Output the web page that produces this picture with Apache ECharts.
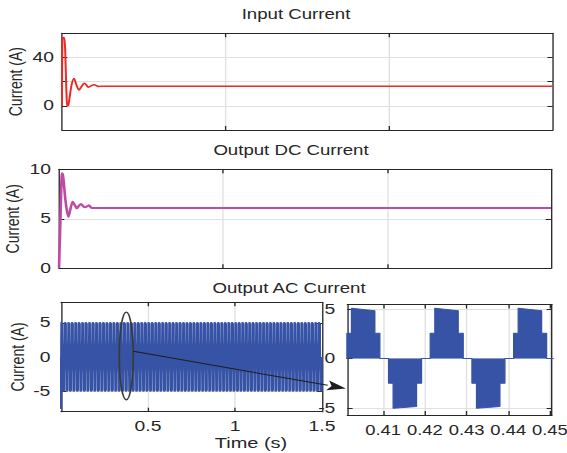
<!DOCTYPE html>
<html>
<head>
<meta charset="utf-8">
<script src="https://cdn.jsdelivr.net/npm/echarts@6/dist/echarts.min.js"></script>
<style>
  html, body { margin: 0; padding: 0; background: #fff; overflow: hidden; }
  #stage { width: 567px; height: 453px; overflow: hidden; }
  /* the figure is laid out narrow and stretched sideways */
  #chart { width: 426px; height: 453px; transform: scaleX(1.3310); transform-origin: 0 0; }
</style>
</head>
<body>
<div id="stage"><div id="chart"></div></div>
<script>
// ---- Input current (A) ----
const inputTime = [0, 0.0012, 0.0065, 0.0140, 0.0160, 0.0195, 0.0290, 0.0367, 0.0445, 0.0520, 0.0600, 0.0680, 0.0740, 0.0800, 0.0890, 0.0980, 0.1060, 0.1130, 0.1250, 1.5];
const inputCurrent = [0, 56, 56.5, 8, 0, 0.5, 17, 22.7, 17, 13.1, 16, 18.6, 17.5, 15.4, 16.5, 17.5, 16.6, 16.0, 16.2, 16.2];

// ---- Output DC current (A) ----
const dcTime = [0, 0.004, 0.0095, 0.0125, 0.020, 0.0284, 0.035, 0.0418, 0.048, 0.054, 0.0605, 0.067, 0.073, 0.079, 0.0855, 0.0915, 0.100, 1.5];
const dcCurrent = [0, 4.5, 9.6, 9.3, 6.8, 5.2, 6.0, 6.73, 6.4, 6.06, 6.3, 6.5, 6.3, 6.16, 6.25, 6.36, 6.1, 6.1];

// ---- Output AC current: one 50 Hz cycle (switching instants and level) ----
const acCyclePhase = [0, 0.0013, 0.0013, 0.0024, 0.0024, 0.0080, 0.0080, 0.0092, 0.0092, 0.0113, 0.0113, 0.0124, 0.0124, 0.0180, 0.0180, 0.0192, 0.0192];
const acCycleLevel = [0, 0, 2.55, 2.55, 5.07, 4.83, 2.55, 2.55, 0, 0, -2.5, -2.5, -5.03, -4.85, -2.5, -2.5, 0];
const acPeriod = 0.02;
const acCycles = 75;
// start-up dip before the first cycle
const acStartTime = [0, 0.0005, 0.0010];
const acStartLevel = [0, -7.6, 0];
const acEndTime = 1.5;

// ---- ticks and labels ----
const timeTicks = [0.5, 1];
const timeLabels = [0.5, 1, 1.5];
const inputTicks = [0, 20, 40];
const inputLabels = [0, 40];
const dcTicks = [0, 5, 10];
const acTicks = [-5, 0, 5];
const zoomTicks = [0.41, 0.42, 0.43, 0.44, 0.45];

// ---- annotation: ellipse on the long trace and arrow to the zoomed view ----
const ellipseTime = [0.335, 0.4155];
const ellipseLevel = [-6.26, 6.55];
const arrowFrom = [0.4155, 0.85];
const arrowTo = [0.40105, -3.03];

const SX = 1.3310;                 // horizontal stretch of the page
const px = v => v / SX;            // final pixel x -> chart x

const axisColor = '#262626';
const gridColor = '#e0e0e0';
const font = "'Liberation Sans', Arial, sans-serif";

// full AC trace built from the repeating cycle
const acData = acStartTime.map((t, i) => [t, acStartLevel[i]]);
for (let k = 0; k < acCycles; k++) {
  for (let i = 0; i < acCyclePhase.length; i++) {
    const t = +(k * acPeriod + acCyclePhase[i]).toFixed(6);
    if (t <= acStartTime[acStartTime.length - 1]) continue;
    acData.push([t, acCycleLevel[i]]);
  }
}
acData.push([acEndTime, 0]);

const zip = (a, b) => a.map((v, i) => [v, b[i]]);

const xAxes = [], yAxes = [];
function boxAxes(g, xr, xTicks, xLabels, yr, yTicks, yLabels, o) {
  const lbl = { color: axisColor, fontSize: 14.5, fontFamily: font };
  const line = { show: true, onZero: false, lineStyle: { color: axisColor, width: 1 } };
  const tick = (vals) => ({ show: true, inside: true, length: 4, customValues: vals, lineStyle: { color: axisColor, width: 1 } });
  xAxes.push({
    type: 'value', gridIndex: g, min: xr[0], max: xr[1], position: 'bottom',
    axisLine: line, axisTick: tick(xTicks),
    axisLabel: Object.assign({}, lbl, { show: !!xLabels, customValues: xLabels || [], margin: o.xMargin || 8, fontSize: o.xFont || 14.5 }),
    splitLine: { show: true, lineStyle: { color: gridColor, width: 1 } }
  });
  xAxes.push({
    type: 'value', gridIndex: g, min: xr[0], max: xr[1], position: 'top',
    axisLine: line, axisTick: tick(xTicks), axisLabel: { show: false }, splitLine: { show: false }
  });
  yAxes.push({
    type: 'value', gridIndex: g, min: yr[0], max: yr[1], position: 'left',
    axisLine: line, axisTick: tick(yTicks),
    axisLabel: Object.assign({ customValues: yLabels, margin: o.yMargin }, lbl),
    splitLine: { show: true, lineStyle: { color: gridColor, width: 1 } },
    name: o.name || '', nameLocation: 'middle', nameGap: o.nameGap || 0, nameMoveOverlap: false,
    nameTextStyle: { color: axisColor, fontSize: 14, fontFamily: font }
  });
  yAxes.push({
    type: 'value', gridIndex: g, min: yr[0], max: yr[1], position: 'right',
    axisLine: line, axisTick: tick(yTicks), axisLabel: { show: false }, splitLine: { show: false }
  });
}

const grids = [
  { left: px(62), top: 33.3, width: px(552.7) - px(62), height: 96.7 },
  { left: px(59), top: 169.3, width: px(551) - px(59), height: 99 },
  { left: px(61), top: 302.3, width: px(322) - px(61), height: 109.4 },
  { left: px(347.3), top: 304.5, width: px(552) - px(347.3), height: 110.5 }
].map(g => Object.assign({ outerBoundsMode: 'none', containLabel: false }, g));

boxAxes(0, [0, 1.5], timeTicks, null, [-20, 60], inputTicks, inputLabels, { yMargin: 6, name: 'Current (A)', nameGap: 28 });
boxAxes(1, [0, 1.5], timeTicks, null, [0, 10], dcTicks, dcTicks, { yMargin: 6, name: 'Current (A)', nameGap: 28.5 });
boxAxes(2, [0, 1.5], timeTicks, timeLabels, [-8, 8], acTicks, acTicks, { yMargin: 8, xMargin: 7.5, name: 'Current (A)', nameGap: 26 });
boxAxes(3, [0.4014, 0.4505], zoomTicks, zoomTicks, [-5.7, 5.45], acTicks, acTicks, { yMargin: 9, xMargin: 8, xFont: 13.8 });
xAxes[6].axisLabel.formatter = v => v.toFixed(2);

const blue = '#3653a6';
const option = {
  animation: false,
  textStyle: { fontFamily: font },
  grid: grids,
  xAxis: xAxes,
  yAxis: yAxes,
  series: [
    { type: 'line', xAxisIndex: 0, yAxisIndex: 0, data: zip(inputTime, inputCurrent), showSymbol: false, smooth: 0.3,
      lineStyle: { color: '#ec2a25', width: 1.5 }, itemStyle: { color: '#ec2a25' } },
    { type: 'line', xAxisIndex: 2, yAxisIndex: 2, data: zip(dcTime, dcCurrent), showSymbol: false, smooth: 0.3,
      lineStyle: { color: '#bf4aa5', width: 2 }, itemStyle: { color: '#bf4aa5' } },
    { type: 'line', xAxisIndex: 4, yAxisIndex: 4, data: acData, showSymbol: false,
      lineStyle: { color: blue, width: 1.6 }, areaStyle: { color: blue, opacity: 1 }, itemStyle: { color: blue } },
    { type: 'line', xAxisIndex: 6, yAxisIndex: 6, data: acData, showSymbol: false,
      lineStyle: { color: blue, width: 1 }, areaStyle: { color: blue, opacity: 1 }, itemStyle: { color: blue } }
  ]
};

const chart = echarts.init(document.getElementById('chart'), null, { renderer: 'svg' });
chart.setOption(option);

// annotation shapes placed through the axes
const pMain = v => chart.convertToPixel({ xAxisIndex: 4, yAxisIndex: 4 }, v);
const pZoom = v => chart.convertToPixel({ xAxisIndex: 6, yAxisIndex: 6 }, v);
const c0 = pMain([ellipseTime[0], ellipseLevel[0]]);
const c1 = pMain([ellipseTime[1], ellipseLevel[1]]);
const a0 = pMain(arrowFrom);
const a1 = pZoom(arrowTo);
const dx = a1[0] - a0[0], dy = a1[1] - a0[1];
const len = Math.hypot(dx, dy), ux = dx / len, uy = dy / len;
const headLen = 14, headHalf = 5;
const base = [a1[0] - ux * headLen, a1[1] - uy * headLen];

const titleStyle = (text, x, y, size) => ({
  type: 'text', x: px(x), y: y,
  style: { text: text, fill: axisColor, font: size + 'px ' + font, align: 'center', verticalAlign: 'middle' }
});

chart.setOption({
  graphic: [
    titleStyle('Input Current', 296, 14, 14),
    titleStyle('Output DC Current', 291, 150, 14),
    titleStyle('Output AC Current', 289, 288, 14),
    titleStyle('Time (s)', 251, 443, 15),
    { type: 'ellipse', silent: true, z: 100,
      shape: { cx: (c0[0] + c1[0]) / 2, cy: (c0[1] + c1[1]) / 2, rx: Math.abs(c1[0] - c0[0]) / 2, ry: Math.abs(c1[1] - c0[1]) / 2 },
      style: { fill: null, stroke: '#3a3a3a', lineWidth: 1.3 } },
    { type: 'line', silent: true, z: 100,
      shape: { x1: a0[0], y1: a0[1], x2: base[0], y2: base[1] },
      style: { stroke: '#1e1e1e', lineWidth: 1 } },
    { type: 'polygon', silent: true, z: 100,
      shape: { points: [a1, [base[0] - uy * headHalf, base[1] + ux * headHalf], [base[0] + ux * 3, base[1] + uy * 3], [base[0] + uy * headHalf, base[1] - ux * headHalf]] },
      style: { fill: '#1e1e1e', stroke: null } }
  ]
});
</script>
</body>
</html>
